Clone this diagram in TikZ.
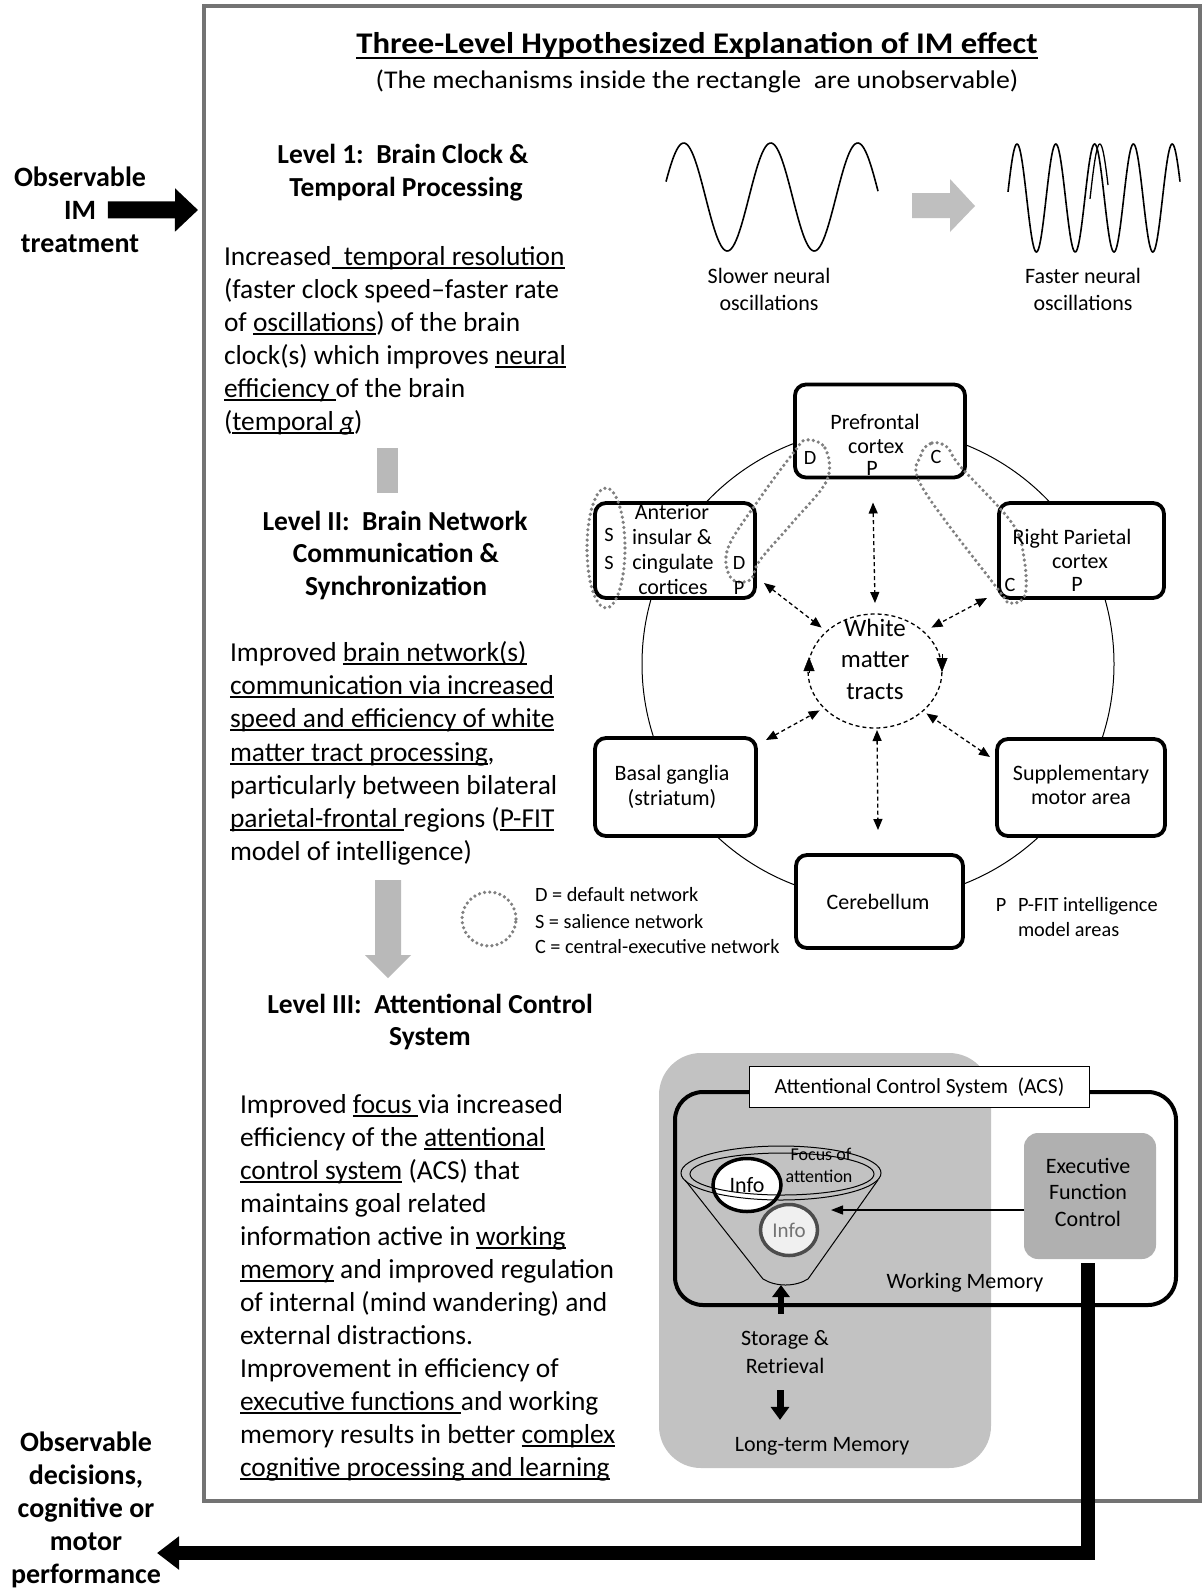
\documentclass[tikz,border=0pt]{standalone}
\usepackage{fontspec}
\setmainfont{Carlito}
\newfontfamily\widefont{Carlito}[FakeStretch=1.09]
\usetikzlibrary{arrows.meta,calc,shapes.geometric}
\newcommand\fsz[2]{\fontsize{#1}{#2}\selectfont}
\newcommand\uu[1]{\leavevmode\setbox0\hbox{#1}\rlap{\rule[-3.6pt]{\wd0}{1.4pt}}\box0\relax}
\newcommand\uut[1]{\leavevmode\setbox0\hbox{#1}\rlap{\rule[-6pt]{\wd0}{2pt}}\box0\relax}
\definecolor{framegray}{gray}{0.45}
\definecolor{dotgray}{gray}{0.5}
\begin{document}
\begin{tikzpicture}[x=1pt,y=-1pt,
 every node/.style={inner sep=0pt,outer sep=0pt},
 hb/.style={font=\fsz{27.5}{33}\bfseries,anchor=base},
 bt/.style={font=\fsz{27.4}{33},anchor=base west},
 ob/.style={font=\fsz{28}{33}\bfseries,anchor=base},
 lb/.style={font=\fsz{22}{26},anchor=base},
 sl/.style={font=\fsz{20.3}{24},anchor=base},
 region/.style={draw,line width=3.8pt,rounded corners=11pt,fill=white},
 dbl/.style={line width=1.3pt,dash pattern=on 4pt off 3pt,{Triangle[length=11pt,width=9pt]}-{Triangle[length=11pt,width=9pt]}},
 net/.style={draw=dotgray,line width=3.6pt,dash pattern=on 0pt off 5.2pt,line cap=round},
 wmtip/.style={-{Triangle[length=14pt,width=11pt]}},
]
\fill[white] (0,0) rectangle (1204,1591);
\useasboundingbox (0,0) rectangle (1204,1591);

% main frame
\draw[framegray,line width=3.5pt] (204,6) rectangle (1200,1501);

% title
\node[font=\widefont\fsz{30}{34}\bfseries,anchor=base] (title) at (697,53) {\uut{Three-Level Hypothesized Explanation of IM effect}};
\node[font=\widefont\fsz{25.5}{30},anchor=base] (subtitle) at (697,88) {(The mechanisms inside the rectangle\ \ are unobservable)};

% input
\node[ob] (in1) at (80,186) {Observable};
\node[ob] (in2) at (80,219) {IM};
\node[ob] (in3) at (80,252) {treatment};
\coordinate (intip) at (198,210);
\draw[line width=17pt,-{Triangle[length=23pt,width=42pt]}] ($(in2.east)+(12,0)$) -- (intip);

% output
\node[ob] (out1) at (86,1451) {Observable};
\node[ob] (out2) at (86,1484) {decisions,};
\node[ob] (out3) at (86,1517) {cognitive or};
\node[ob] (out4) at (86,1550) {motor};
\node[ob] (out5) at (86,1583) {performance};

% Level 1
\node[hb] (l1a) at (403,163) {Level 1:\ \ Brain Clock \&};
\node[hb] (l1b) at (406,196) {Temporal Processing};
\node[bt] (t1a) at (224,265) {Increased\uu{\ \ temporal resolution}};
\node[bt] (t1b) at (224,298) {(faster clock speed--faster rate};
\node[bt] (t1c) at (224,331) {of \uu{oscillations}) of the brain};
\node[bt] (t1d) at (224,364) {clock(s) which improves \uu{neural}};
\node[bt] (t1e) at (224,397) {\uu{efficiency\ }of the brain};
\node[bt] (t1f) at (224,430) {(\uu{temporal \textit{g}})};
\fill[gray!55] (377,448) rectangle (398,493);

% Level 2
\node[hb] (l2a) at (395,530) {Level II:\ \ Brain Network};
\node[hb] (l2b) at (396,562) {Communication \&};
\node[hb] (l2c) at (396,595) {Synchronization};
\node[bt] (t2a) at (230,661) {Improved \uu{brain network(s)}};
\node[bt] (t2b) at (230,694) {\uu{communication via increased}};
\node[bt] (t2c) at (230,727) {\uu{speed and efficiency of white}};
\node[bt] (t2d) at (230,761) {\uu{matter tract processing},};
\node[bt] (t2e) at (230,794) {particularly between bilateral};
\node[bt] (t2f) at (230,827) {\uu{parietal-frontal\ }regions (\uu{P-FIT}};
\node[bt] (t2g) at (230,860) {model of intelligence)};
\fill[gray!55] (375,880) -- (401,880) -- (401,955) -- (411,955) -- (388,978) -- (365,955) -- (375,955) -- cycle;

% legend
\node[circle,net,minimum size=54pt] (legc) at (489,919) {};
\node[sl,anchor=base west] (lg1) at (535,901) {D = default network};
\node[sl,anchor=base west] (lg2) at (535,928) {S = salience network};
\node[sl,anchor=base west] (lg3) at (535,953) {C = central-executive network};

% Level 3
\node[hb] (l3a) at (430,1013) {Level III:\ \ Attentional Control};
\node[hb] (l3b) at (430,1045) {System};
\node[bt] (t3a) at (240,1113) {Improved \uu{focus\ }via increased};
\node[bt] (t3b) at (240,1146) {efficiency of the \uu{attentional}};
\node[bt] (t3c) at (240,1179) {\uu{control system} (ACS) that};
\node[bt] (t3d) at (240,1212) {maintains goal related};
\node[bt] (t3e) at (240,1245) {information active in \uu{working}};
\node[bt] (t3f) at (240,1278) {\uu{memory} and improved regulation};
\node[bt] (t3g) at (240,1311) {of internal (mind wandering) and};
\node[bt] (t3h) at (240,1344) {external distractions.};
\node[bt] (t3i) at (240,1377) {Improvement in efficiency of};
\node[bt] (t3j) at (240,1410) {\uu{executive functions\ }and working};
\node[bt] (t3k) at (240,1443) {memory results in better \uu{complex}};
\node[bt] (t3l) at (240,1476) {\uu{cognitive processing and learning}};

% oscillations
\draw[line width=1.6pt] plot[domain=666:878,samples=140,smooth] (\x,{197-54*sin(4.1379*(\x-662))});
\draw[line width=1.6pt] plot[domain=1008:1180,samples=220,smooth] (\x,{198-54*sin(9.2784*(\x-1007.3))});
\draw[line width=1.3pt] plot[domain=1090:1108,samples=30,smooth] (\x,{198-54*sin(9.2784*(\x-1012.5))});
\fill[gray!50] (912,193) -- (950,193) -- (950,179) -- (975,206) -- (950,232) -- (950,218) -- (912,218) -- cycle;
\node[lb] (sw1) at (769,283) {Slower neural};
\node[lb] (sw2) at (769,310) {oscillations};
\node[lb] (fw1) at (1083,283) {Faster neural};
\node[lb] (fw2) at (1083,310) {oscillations};

% network
\node[circle,draw,line width=1pt,minimum size=472pt] (ring) at (878,664) {};
\node[region,minimum width=170pt,minimum height=93pt] (pfc) at (880,431) {};
\node[region,minimum width=160pt,minimum height=95pt] (ant) at (675,550.5) {};
\node[region,minimum width=165pt,minimum height=95pt] (rpc) at (1081.5,550.5) {};
\node[region,minimum width=161pt,minimum height=98pt] (bg) at (675.5,787) {};
\node[region,minimum width=168pt,minimum height=97pt] (sma) at (1081,787.5) {};
\node[region,minimum width=167pt,minimum height=93pt] (cb) at (879.5,901.5) {};

% network loops
\draw[net] plot[smooth cycle,tension=0.6] coordinates {(806,440) (825,448) (827,480) (793,522) (760,560) (750,580) (731,578) (728,548) (760,498) (794,452)};
\draw[net] plot[smooth cycle,tension=0.6] coordinates {(921,455) (932,443) (947,447) (960,466) (1012,523) (1024,558) (1025,595) (1010,603) (997,588) (922,487)};
\draw[net] (606,548) ellipse (19 and 60);

% box texts
\node[lb] (pfct1) at (875,429) {Prefrontal};
\node[lb] (pfct2) at (876,453) {cortex};
\node[lb] (pfct3) at (872,475) {P};
\node[sl] (pfcD) at (810,464) {D};
\node[sl] (pfcC) at (936,463) {C};
\node[lb] (antt1) at (672,519) {Anterior};
\node[lb] (antt2) at (672,544) {insular \&};
\node[lb] (antt3) at (673,569) {cingulate};
\node[lb] (antt4) at (673,594) {cortices};
\node[sl] (antS1) at (609,541) {S};
\node[sl] (antS2) at (609,569) {S};
\node[sl] (antD) at (739,569) {D};
\node[sl] (antP) at (739,594) {P};
\node[lb] (rpct1) at (1072,544) {Right Parietal};
\node[lb] (rpct2) at (1080,568) {cortex};
\node[lb] (rpct3) at (1077,591) {P};
\node[sl] (rpcC) at (1010,591) {C};
\node[lb] (bgt1) at (672,780) {Basal ganglia};
\node[lb] (bgt2) at (672,805) {(striatum)};
\node[lb] (smat1) at (1081,780) {Supplementary};
\node[lb] (smat2) at (1081,804) {motor area};
\node[lb] (cbt) at (878,909) {Cerebellum};
\node[sl] (pfitP) at (1001,911) {P};
\node[sl,anchor=base west] (pfit1) at (1018,911) {P-FIT intelligence};
\node[sl,anchor=base west] (pfit2) at (1018,936) {model areas};

% white matter
\node[ellipse,draw,line width=1.3pt,dash pattern=on 4pt off 3pt,minimum width=134pt,minimum height=114pt] (wm) at (875,671) {};
\node[font=\fsz{25}{30},anchor=base] (wmt1) at (875,636) {White};
\node[font=\fsz{25}{30},anchor=base] (wmt2) at (875,667) {matter};
\node[font=\fsz{25}{30},anchor=base] (wmt3) at (875,699) {tracts};
\draw[wmtip] ($(wm.west)+(1,2)$) -- ($(wm.west)+(1,-14)$);
\draw[wmtip] ($(wm.east)+(0,-17)$) -- ($(wm.east)+(0,1)$);

\draw[dbl] ($(pfc.south)+(-7,25)$) -- ($(wm.north)+(0,-11)$);
\draw[dbl] ($(wm.south)+(2,2)$) -- ($(cb.north)+(-1.5,-25)$);
\draw[dbl] ($(ant.south east)+(9,-15)$) -- ($(wm.135)+(-10,0)$);
\draw[dbl] ($(rpc.south west)+(-12,0)$) -- ($(wm.45)+(13,0)$);
\draw[dbl] ($(bg.north east)+(10,2)$) -- ($(wm.225)+(-12,-4)$);
\draw[dbl] ($(sma.north west)+(-7,18)$) -- ($(wm.315)+(8,-1)$);

% attentional control system
\node[fill=gray!48,rounded corners=42pt,minimum width=332pt,minimum height=415pt] (ltm) at (825,1260.5) {};
\node[draw,line width=4pt,rounded corners=28pt,minimum width=501pt,minimum height=213pt] (acs) at (925.5,1198.5) {};
\node[draw,fill=white,line width=1.2pt,minimum width=340pt,minimum height=41pt,font=\fsz{21.5}{25}] (acst) at (919.5,1087) {Attentional Control System\ \ (ACS)};
\node[fill=gray!62,rounded corners=14pt,minimum width=132pt,minimum height=126pt] (exec) at (1090,1196) {};
\node[lb] (ex1) at (1088,1173) {Executive};
\node[lb] (ex2) at (1088,1199) {Function};
\node[lb] (ex3) at (1088,1226) {Control};

% funnel
\coordinate (fl) at (685,1180);
\coordinate (fr) at (878,1180);
\coordinate (fbl) at (763,1279);
\coordinate (fbr) at (808,1279);
\coordinate (fb) at (781,1285);
\draw[line width=1pt] (fl) -- (fbl) .. controls (776,1287) and (795,1287) .. (fbr) -- (fr);
\node[ellipse,draw=black!70,line width=3.5pt,fill=gray!12,minimum width=57pt,minimum height=51pt,font=\fsz{21}{25},text=black!55] (info2) at (789,1230) {Info};
\node[ellipse,draw,line width=3.5pt,fill=white,minimum width=68pt,minimum height=53pt,font=\fsz{22}{26}] (info1) at (747,1185) {Info};
\node[ellipse,draw,line width=1pt,minimum width=200pt,minimum height=54pt] (foc) at (781,1173) {};
\node[ellipse,draw,line width=1pt,minimum width=184pt,minimum height=42pt] (foci) at (782,1174) {};
\node[font=\fsz{18}{21},anchor=base] (foct1) at (821,1160) {Focus of};
\node[font=\fsz{18}{21},anchor=base] (foct2) at (819,1182) {attention};
\coordinate (focpt) at (831,1210);
\draw[line width=1.2pt,-{Triangle[length=12pt,width=9pt]}] ($(exec.west)+(0,14)$) -- (focpt);
\node[lb] (wmem) at (965,1288) {Working Memory};
\node[lb] (st1) at (785,1345) {Storage \&};
\node[lb] (st2) at (785,1373) {Retrieval};
\node[lb] (ltmt) at (822,1451) {Long-term Memory};
\draw[line width=6pt,-{Triangle[length=12pt,width=17pt]}] ($(st1.north)+(-4,-16)$) -- (fb);
\draw[line width=7pt,-{Triangle[length=13pt,width=18pt]}] ($(st2.south)+(-5,17)$) -- ($(ltmt.north)+(-42,-17)$);

% output connector
\coordinate (outtip) at (157,1553);
\draw[line width=14pt,-{Triangle[length=22pt,width=32pt]}] ($(exec.south)+(-2,4)$) |- (outtip);
\end{tikzpicture}
\end{document}
